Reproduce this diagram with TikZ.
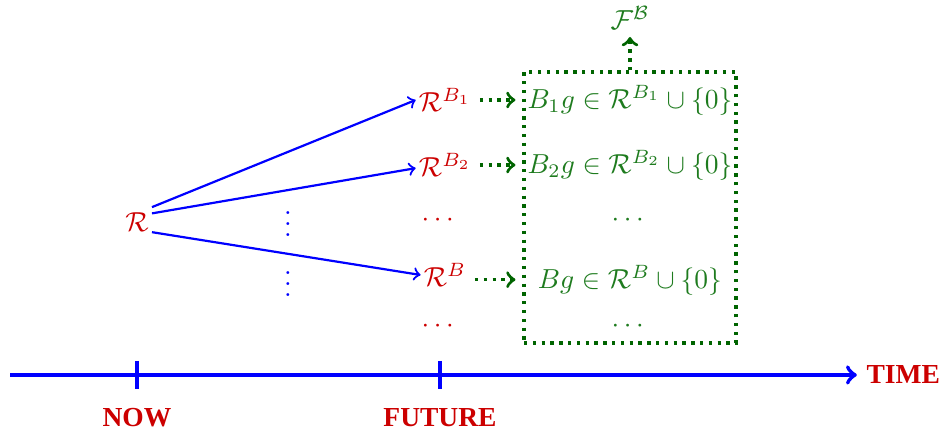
\documentclass[tikz,border=0pt]{standalone}
\usepackage[no-math]{fontspec}
\usepackage{amsmath,amssymb}
\newfontfamily\labelfont{Liberation Serif}
\definecolor{rdred}{HTML}{CC0000}
\definecolor{grtext}{HTML}{1E7B1E}
\definecolor{dkgreen}{HTML}{006400}

\begin{document}
\begin{tikzpicture}[
  flow/.style={->,thick,draw=blue},
  dotflow/.style={->,very thick,dotted,draw=dkgreen,shorten >=2.5pt},
  axis/.style={->,line width=1.5pt,draw=blue},
  timetick/.style={line width=1.2pt,draw=blue},
  rlab/.style={text=rdred,inner sep=1pt},
  glab/.style={text=grtext,inner sep=1pt},
  tlab/.style={text=rdred,font=\labelfont\bfseries}
]
\useasboundingbox (0,0) rectangle (12,5.559);
\node[rlab] (R) at (1.751,2.722) {$\mathcal{R}$};
\node[rlab] (RB1) at (5.687,4.281) {$\mathcal{R}^{B_1}$};
\node[rlab] (RB2) at (5.687,3.450) {$\mathcal{R}^{B_2}$};
\node[rlab] (Rdots1) at (5.623,2.748) {$\cdots$};
\node[rlab] (RB) at (5.687,2.045) {$\mathcal{R}^{B}$};
\node[rlab] (Rdots2) at (5.623,1.393) {$\cdots$};
\node[text=blue] (vd1) at (3.681,2.80) {$\vdots$};
\node[text=blue] (vd2) at (3.681,2.03) {$\vdots$};
\draw[flow] ([yshift=0.19cm]R.east) -- (RB1.west);
\draw[flow] ([yshift=0.11cm]R.east) -- ([yshift=-0.04cm]RB2.west);
\draw[flow] ([yshift=-0.13cm]R.east) -- (RB.west);

\node[draw=dkgreen,very thick,dotted,minimum width=2.709cm,minimum height=3.463cm]
  (box) at (8.051,2.907) {};
\node[glab] (G1) at (8.051,4.281) {$B_1g\in\mathcal{R}^{B_1}\cup\{0\}$};
\node[glab] (G2) at (8.051,3.450) {$B_2g\in\mathcal{R}^{B_2}\cup\{0\}$};
\node[glab] (Gdots1) at (8.051,2.748) {$\cdots$};
\node[glab] (G) at (8.051,1.981) {$Bg\in\mathcal{R}^{B}\cup\{0\}$};
\node[glab] (Gdots2) at (8.051,1.393) {$\cdots$};
\node[glab] (F) at (8.051,5.329) {$\mathcal{F}^{\mathcal{B}}$};
\draw[dotflow] ([xshift=2pt]RB1.east) -- (RB1.east -| box.west);
\draw[dotflow] ([xshift=2pt]RB2.east) -- (RB2.east -| box.west);
\draw[dotflow] ([xshift=2pt,yshift=-0.06cm]RB.east) -- ([yshift=-0.06cm]RB.east -| box.west);
\draw[dotflow] (box.north) -- ([yshift=1pt]F.south);

\coordinate (t0) at (0.128,0.767);
\coordinate (t1) at (10.95,0.767);
\draw[axis] (t0) -- (t1);
\node[tlab,anchor=west] (time) at (t1) {TIME};
\node[tlab] (now) at (1.751,0.217) {NOW};
\node[tlab] (future) at (5.623,0.217) {FUTURE};
\draw[timetick] (1.751,0.947) -- (1.751,0.588);
\draw[timetick] (5.623,0.947) -- (5.623,0.588);
\end{tikzpicture}
\end{document}
